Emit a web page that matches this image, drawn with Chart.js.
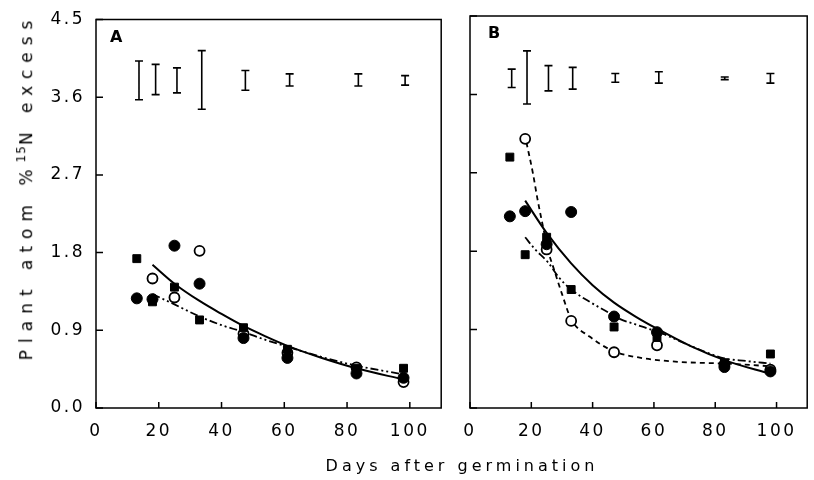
<!DOCTYPE html>
<html>
<head>
<meta charset="utf-8">
<script src="https://cdn.jsdelivr.net/npm/chart.js@4.4.1/dist/chart.umd.min.js"></script>
<style>
  body { margin: 0; background: #fff; }
  #wrap { position: relative; width: 814px; height: 480px; font-family: "DejaVu Sans", sans-serif; color: #000; }
  #chartA { position: absolute; left: 0; top: 0; }
  #chartB { position: absolute; left: 448px; top: 0; }
  .ytitle { position: absolute; left: 25px; top: 187px; transform: translate(-50%, -50%) rotate(-90deg);
            white-space: nowrap; font-size: 17px; letter-spacing: 7px; }
  .ytitle sup { font-size: 12px; letter-spacing: 1px; }
  .xtitle { position: absolute; left: 462px; top: 465px; transform: translate(-50%, -50%);
            white-space: nowrap; font-size: 16px; letter-spacing: 4px; }
</style>
</head>
<body>
<div id="wrap">
  <canvas id="chartA" width="448" height="480"></canvas>
  <canvas id="chartB" width="366" height="480"></canvas>
  <div class="ytitle">Plant atom %<sup>15</sup>N excess</div>
  <div class="xtitle">Days after germination</div>
</div>
<script>
// sampling days
const days = [13, 18, 25, 33, 47, 61, 83, 98]

// Panel A observations
const filledCircA = [1.27, 1.26, 1.88, 1.44, 0.81, 0.58, 0.40, 0.35]
const openCircA = [null, 1.50, 1.28, 1.82, 0.86, 0.64, 0.47, 0.30]
const filledSqA = [1.73, 1.23, 1.40, 1.02, 0.93, 0.68, 0.46, 0.46]

// Panel A fitted curves
const fitDaysA = [18, 25, 33, 40, 47, 54, 61, 72, 83, 98]
const solidFitA = [1.66, 1.44, 1.24, 1.09, 0.95, 0.83, 0.72, 0.58, 0.46, 0.33]
const dashDotFitA = [1.32, 1.20, 1.06, 0.96, 0.88, 0.79, 0.71, 0.59, 0.49, 0.39]

// Panel B observations
const filledCircB = [2.20, 2.26, 1.88, 2.25, 1.05, 0.87, 0.47, 0.42]
const openCircB = [null, 3.09, 1.82, 1.00, 0.64, 0.72, 0.50, 0.44]
const filledSqB = [2.88, 1.76, 1.96, 1.36, 0.93, 0.81, 0.52, 0.62]

// Panel B fitted curves
const solidFitDaysB = [18, 25, 33, 40, 47, 54, 61, 72, 83, 98]
const solidFitB = [2.38, 2.01, 1.66, 1.41, 1.21, 1.05, 0.91, 0.71, 0.55, 0.39]
const dashFitDaysB = [18.4, 20.5, 22, 24, 25.3, 27.5, 30, 33, 39, 47, 55, 68, 83, 98]
const dashFitB = [3.05, 2.70, 2.40, 2.05, 1.83, 1.58, 1.31, 1.02, 0.82, 0.65, 0.58, 0.53, 0.51, 0.48]
const dashDotFitDaysB = [18, 21, 25.5, 29, 33, 38.5, 45, 49, 54, 63, 73.5, 83, 90, 98]
const dashDotFitB = [1.96, 1.83, 1.67, 1.50, 1.36, 1.23, 1.10, 1.02, 0.96, 0.85, 0.69, 0.57, 0.54, 0.51]

// error bars at the top of each panel
const errDaysA = [13.7, 19, 25.8, 33.7, 47.6, 61.7, 83.6, 98.5]
const errLowA = [3.57, 3.63, 3.65, 3.46, 3.68, 3.73, 3.73, 3.74]
const errHighA = [4.02, 3.98, 3.94, 4.14, 3.91, 3.87, 3.87, 3.85]
const errDaysB = [13.6, 18.6, 25.6, 33.5, 47.4, 61.6, 83.1, 98]
const errLowB = [3.68, 3.49, 3.64, 3.66, 3.74, 3.73, 3.77, 3.73]
const errHighB = [3.89, 4.10, 3.93, 3.91, 3.84, 3.86, 3.80, 3.84]

const tickFont = { family: "DejaVu Sans", size: 17, lineHeight: 1 }

function pts(xs, ys) {
  return xs.map((x, i) => ({ x: x, y: ys[i] }))
}

function markers(ys, style, filled, r) {
  return {
    data: pts(days, ys),
    showLine: false,
    pointStyle: style,
    pointRadius: r,
    pointBorderWidth: filled ? 1 : 1.8,
    pointBorderColor: "#000",
    pointBackgroundColor: filled ? "#000" : "#fff"
  }
}

function fitLine(xs, ys, dash, width) {
  return {
    data: pts(xs, ys),
    showLine: true,
    pointRadius: 0,
    borderColor: "#000",
    borderWidth: width,
    borderDash: dash,
    cubicInterpolationMode: "monotone"
  }
}

// frame, inward ticks, error bars and panel letter
const decorPlugin = {
  id: "decor",
  beforeDraw(chart) {
    chart.ctx.letterSpacing = "2.5px"
  },
  afterDraw(chart) {
    const ctx = chart.ctx
    const a = chart.chartArea
    const xs = chart.scales.x
    const ys = chart.scales.y
    const o = chart.options.plugins.decor
    ctx.save()
    ctx.strokeStyle = "#000"
    ctx.lineWidth = 1.5
    ctx.strokeRect(a.left, a.top, a.right - a.left, a.bottom - a.top)

    ctx.beginPath()
    xs.ticks.forEach((t) => {
      const px = xs.getPixelForValue(t.value)
      ctx.moveTo(px, a.bottom)
      ctx.lineTo(px, a.bottom - 6)
    })
    ys.ticks.forEach((t) => {
      const py = ys.getPixelForValue(t.value)
      ctx.moveTo(a.left, py)
      ctx.lineTo(a.left + 7, py)
    })
    ctx.stroke()

    ctx.lineWidth = 1.6
    ctx.beginPath()
    o.errX.forEach((x, i) => {
      const px = xs.getPixelForValue(x)
      const y1 = ys.getPixelForValue(o.errLow[i])
      const y2 = ys.getPixelForValue(o.errHigh[i])
      ctx.moveTo(px, y1)
      ctx.lineTo(px, y2)
      ctx.moveTo(px - 4, y1)
      ctx.lineTo(px + 4, y1)
      ctx.moveTo(px - 4, y2)
      ctx.lineTo(px + 4, y2)
    })
    ctx.stroke()

    ctx.letterSpacing = "0px"
    ctx.fillStyle = "#000"
    ctx.font = "bold 16px 'DejaVu Sans'"
    ctx.textBaseline = "top"
    ctx.fillText(o.label, a.left + o.labelDx, a.top + 10)
    ctx.restore()
  }
}

function makePanel(id, obs, fits, err, showY, yWidth, padRight, label, labelDx) {
  const datasets = [
    markers(obs[0], "circle", true, 5.5),
    markers(obs[2], "rect", true, 5.6),
    markers(obs[1], "circle", false, 5)
  ].concat(fits)

  return new Chart(document.getElementById(id), {
    type: "scatter",
    data: { datasets: datasets },
    options: {
      responsive: false,
      animation: false,
      layout: { padding: { top: 16, right: padRight, left: 0, bottom: 0 } },
      plugins: {
        legend: { display: false },
        tooltip: { enabled: false },
        decor: { errX: err[0], errLow: err[1], errHigh: err[2], label: label, labelDx: labelDx }
      },
      scales: {
        x: {
          type: "linear", min: 0, max: 110,
          grid: { display: false, drawTicks: false },
          border: { display: false },
          ticks: { stepSize: 20, includeBounds: false, padding: 15, color: "#000", font: tickFont, maxRotation: 0 },
          afterFit: (s) => { s.height = 72 }
        },
        y: {
          type: "linear", min: 0, max: 4.5,
          grid: { display: false, drawTicks: false },
          border: { display: false },
          ticks: {
            display: showY, stepSize: 0.9, padding: 11, color: "#000", font: tickFont,
            callback: (v) => Number(v).toFixed(1)
          },
          afterFit: (s) => { s.width = yWidth }
        }
      }
    },
    plugins: [decorPlugin]
  })
}

makePanel("chartA",
  [filledCircA, openCircA, filledSqA],
  [fitLine(fitDaysA, solidFitA, [], 2), fitLine(fitDaysA, dashDotFitA, [8, 3, 2, 3, 2, 3], 1.8)],
  [errDaysA, errLowA, errHighA], true, 96, 5, "A", 14)

makePanel("chartB",
  [filledCircB, openCircB, filledSqB],
  [fitLine(solidFitDaysB, solidFitB, [], 2),
   fitLine(dashFitDaysB, dashFitB, [5, 4], 1.8),
   fitLine(dashDotFitDaysB, dashDotFitB, [8, 3, 2, 3, 2, 3], 1.8)],
  [errDaysB, errLowB, errHighB], false, 22, 2, "B", 18)
</script>
</body>
</html>
